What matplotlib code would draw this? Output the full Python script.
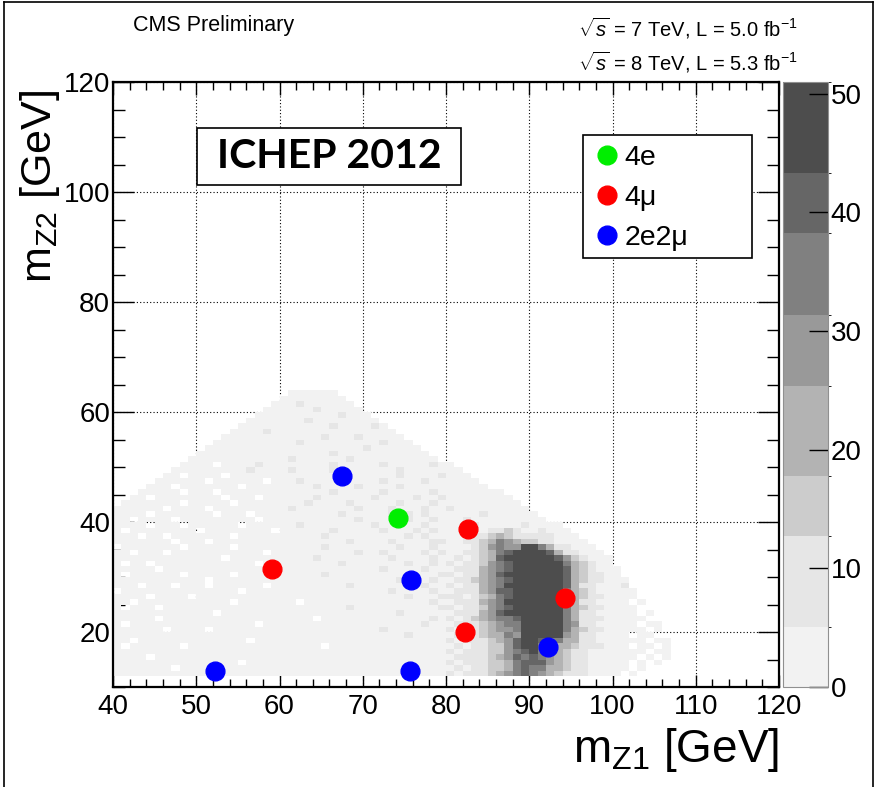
import numpy as np
import matplotlib
matplotlib.use('Agg')
import matplotlib.pyplot as plt
from matplotlib.colors import ListedColormap, BoundaryNorm
from matplotlib.lines import Line2D
from matplotlib.patches import Rectangle

plt.rcParams['font.family'] = ['Liberation Sans', 'DejaVu Sans']
plt.rcParams['mathtext.fontset'] = 'custom'
plt.rcParams['mathtext.rm'] = 'Liberation Sans'
plt.rcParams['mathtext.it'] = 'Liberation Sans:italic'
plt.rcParams['mathtext.bf'] = 'Liberation Sans:bold'

###########################################################################
# Data
###########################################################################
# candidate events (m_Z1, m_Z2) in GeV
mz1_4e = [74.2]
mz2_4e = [40.8]
mz1_4mu = [59.1, 82.7, 82.3, 94.3]
mz2_4mu = [31.5, 38.7, 20.0, 26.1]
mz1_2e2mu = [67.5, 75.8, 75.7, 52.3, 92.3]
mz2_2e2mu = [48.4, 29.5, 13.0, 13.0, 17.2]

# expected ZZ map, 1 GeV bins, columns m_Z1 = 40..109, rows m_Z2 = 63 down to 12
# each digit is the colour band the bin falls in (0 = empty)
band_counts = [0, 2, 9, 15, 21, 28, 35, 41, 47]
z_levels = [0, 5.06, 12.7, 17.8, 25.4, 31.4, 38.3, 43.3, 51]
z_colors = ['#f2f2f2', '#e6e6e6', '#cccccc', '#b3b3b3', '#999999',
            '#808080', '#666666', '#4d4d4d']
z_ticks = [0, 10, 20, 30, 40, 50]
bkg_rows = [
    '0000000000|0000000000|0111111000',
    '0000000000|0000000000|1111111100',
    '0000000000|0000000001|1121111110',
    '0000000000|0000000011|1111211111|0',
    '0000000000|0000000111|1111111211|1',
    '0000000000|0000001111|1112111111|11',
    '0000000000|0000011111|1111112111|121',
    '0000000000|0000111121|1111111111|1111',
    '0000000000|0001111111|1111121112|11111',
    '0000000000|0011111111|1121111111|112111',
    '0000000000|0111111111|1111111111|2111111',
    '0000000000|1111111111|1111112111|11111111',
    '0000000001|1111111111|1211111121|111111111',
    '0000000011|1101111211|1111112111|1121111121|1',
    '0000000111|1111112111|1211112111|1111211111|11',
    '0000001101|1110111111|1111111211|1111211112|111',
    '0000011111|1011111101|1121111111|1121111211|1111',
    '0000111011|1111101111|1111211112|1111211111|11111',
    '0001111101|1101111111|1111112111|1121111121|1111111',
    '0011011111|1110111011|1111211111|1211112112|11111111',
    '0111111101|1111011111|1112111121|1111211121|111111111',
    '1111110111|1011111111|1211111112|1112111211|2111111111',
    '1111011111|1101110111|1111111211|1112121211|1111211111|1000000000',
    '1101111011|1111111011|1111111112|1111121121|1121111111|1100000000',
    '1111011101|1111101111|1121111111|1211111211|1112111112|1111000000',
    '1011111111|0111111110|1111112111|1121112121|1121122321|1211100000',
    '1110110111|1111011111|1111121111|1111121211|1112234322|2221110000',
    '1111111011|1011111111|1111111121|1112111122|1122346543|3221111000',
    '0111111101|1111011111|1111121111|1111211121|1112356558|8642211100',
    '1101110111|1111111101|1111111112|1121111212|1122346788|8874221110',
    '1111111111|1110111111|1111211111|1112111121|1212347888|8887532111',
    '1011011111|1111111011|1111111211|1111121121|2122356788|8888643211|0',
    '1111101111|1111111101|1111111111|1121111211|1222456788|8888743211|1',
    '1011111101|1111011111|1111121111|1111111112|2122457888|8888743221|1',
    '1111111111|1011111111|1111111111|1111211121|1223456788|8888743221|11',
    '1110111011|1011111101|1111111121|1111111211|2122456888|8888742211|12',
    '0111111111|1111101111|1111111111|1112111121|1222457788|8888643211|111',
    '1111011110|1111111111|1111111111|1111121112|2212346788|8888743221|111',
    '1101111111|1111011111|1101111111|1111111121|1222456888|8888742211|1101',
    '1011101111|1111111111|1111111121|1111111112|2122356788|8888643221|1110',
    '1111111111|1101111111|1111111111|1111211111|1222457888|8888642211|11101',
    '1111101111|1111111111|1111011111|1111111121|2123456678|8888642221|11110',
    '1011111111|1111111011|1111111111|1111111211|1222345668|8888652211|111011',
    '1111110111|1011111111|1111111111|1121111111|2122345568|8888643221|111101',
    '1111111111|1111111111|1111111111|1111121111|1222344658|8888542211|110110',
    '1101111111|1111110111|1111111111|1111111111|2122234578|8766442211|1111011',
    '1011111101|1111111111|1111101111|1111111111|1212233578|8664432221|1101101',
    '1111111111|1111111111|1111111111|1111111111|2122233567|8654322111|11110110',
    '1111011111|1111111111|1111111111|1111111111|1222234576|7654322111|11101010',
    '1111111111|1111101111|1111111111|1111111111|2122233467|7754322111|110101',
    '1111111011|1111111111|1111111111|1111111111|1212233467|6644322111|1101',
    '1111111111|1111111111|1111111111|1111111111|2122234567|6543222111|101',
]

###########################################################################
# Build histogram
###########################################################################
n_cols = 70
grid = np.array([[band_counts[int(c)] for c in r.replace('|', '').ljust(n_cols, '0')[:n_cols]]
                 for r in bkg_rows[::-1]], dtype=float)
xedges = np.arange(40, 40 + n_cols + 1)
yedges = np.arange(12, 12 + len(bkg_rows) + 1)
grid = np.ma.masked_equal(grid, 0)

cmap = ListedColormap(z_colors)
norm = BoundaryNorm(z_levels, cmap.N)

###########################################################################
# Plot
###########################################################################
W, H = 877, 787
fig = plt.figure(figsize=(W / 100, H / 100), dpi=100)
ax_l, ax_r, ax_t, ax_b = 113, 779, 82, 687
ax = fig.add_axes([ax_l / W, 1 - ax_b / H, (ax_r - ax_l) / W, (ax_b - ax_t) / H])
ax.set_axisbelow(True)

mesh = ax.pcolormesh(xedges, yedges, grid, cmap=cmap, norm=norm, zorder=1)

ms = 13.5
ax.plot(mz1_4e, mz2_4e, 'o', color='#00ee00', markersize=ms, zorder=5)
ax.plot(mz1_4mu, mz2_4mu, 'o', color='#ff0000', markersize=ms, zorder=5)
ax.plot(mz1_2e2mu, mz2_2e2mu, 'o', color='#0000ff', markersize=ms, zorder=5)

ax.set_xlim(40, 120)
ax.set_ylim(10, 120)
ax.set_xticks(np.arange(40, 121, 10))
ax.set_xticks(np.arange(40, 121, 2), minor=True)
ax.set_yticks(np.arange(20, 121, 20))
ax.set_yticks(np.arange(10, 121, 5), minor=True)
ax.grid(which='major', color='black', linestyle=(0, (1, 2)), linewidth=0.8)
ax.tick_params(which='both', direction='in', top=True, right=True, labelsize=20, width=1)
ax.tick_params(axis='x', which='major', length=9, pad=5)
ax.tick_params(axis='x', which='minor', length=6)
ax.tick_params(axis='y', which='major', length=15, pad=2)
ax.tick_params(axis='y', which='minor', length=8.5)
for s in ax.spines.values():
    s.set_linewidth(1.6)

# ICHEP box
ax.add_patch(Rectangle((50.1, 101.3), 31.7, 10.3, facecolor='white',
                       edgecolor='black', linewidth=1.2, zorder=6))
ax.text(65.95, 106.4, 'ICHEP 2012', fontsize=29.5, fontweight='bold', family='Lato',
        ha='center', va='center', zorder=7)

# legend (ROOT-style box, wider than its entries)
leg_x0, leg_x1, leg_y0, leg_y1 = 583, 752, 135, 258
ax.add_patch(Rectangle(((leg_x0 - ax_l) / (ax_r - ax_l), (ax_b - leg_y1) / (ax_b - ax_t)),
                       (leg_x1 - leg_x0) / (ax_r - ax_l), (leg_y1 - leg_y0) / (ax_b - ax_t),
                       transform=ax.transAxes, facecolor='white', edgecolor='black',
                       linewidth=1.2, zorder=6))
handles = [Line2D([], [], marker='o', ls='', color='#00ee00', markersize=ms, label='4e'),
           Line2D([], [], marker='o', ls='', color='#ff0000', markersize=ms, label='4\u03bc'),
           Line2D([], [], marker='o', ls='', color='#0000ff', markersize=ms, label='2e2\u03bc')]
leg = ax.legend(handles=handles, loc='upper left',
                bbox_to_anchor=((leg_x0 - ax_l) / (ax_r - ax_l), (ax_b - leg_y0) / (ax_b - ax_t)),
                frameon=False, fontsize=20.5, handletextpad=0.1, handlelength=1.0,
                labelspacing=0.5, borderpad=0.35, borderaxespad=0)
leg.set_zorder(8)

# colour bar
cax = fig.add_axes([783 / W, 1 - ax_b / H, 45 / W, (ax_b - ax_t) / H])
cb = fig.colorbar(mesh, cax=cax, ticks=z_ticks, spacing='proportional')
cb.outline.set_edgecolor('#909090')
cb.outline.set_linewidth(0.8)
cax.set_ylim(0, 51)
cax.tick_params(direction='in', length=14, width=1, labelsize=20, pad=2)

# labels and header
fig.text(779 / W, 1 - 750 / H, r'm$_{\mathrm{Z1}}$ [GeV]', fontsize=33, ha='right', va='center')
fig.text(40 / W, 1 - 90 / H, r'm$_{\mathrm{Z2}}$ [GeV]', fontsize=31, rotation=90, ha='center', va='top')
fig.text(133 / W, 1 - 25 / H, 'CMS Preliminary', fontsize=15.5, ha='left', va='center')
fig.text(578 / W, 1 - 28 / H, r'$\sqrt{s}$ = 7 TeV, L = 5.0 fb$^{-1}$', fontsize=14.5, ha='left', va='center')
fig.text(578 / W, 1 - 62 / H, r'$\sqrt{s}$ = 8 TeV, L = 5.3 fb$^{-1}$', fontsize=14.5, ha='left', va='center')

# outer frame
for xs, ys in [([4, 4], [H, 2]), ([4, 873], [2, 2]), ([873, 873], [2, H])]:
    fig.add_artist(Line2D([x / W for x in xs], [1 - y / H for y in ys], color='black', linewidth=1.2))

fig.savefig('out.png', dpi=100)
